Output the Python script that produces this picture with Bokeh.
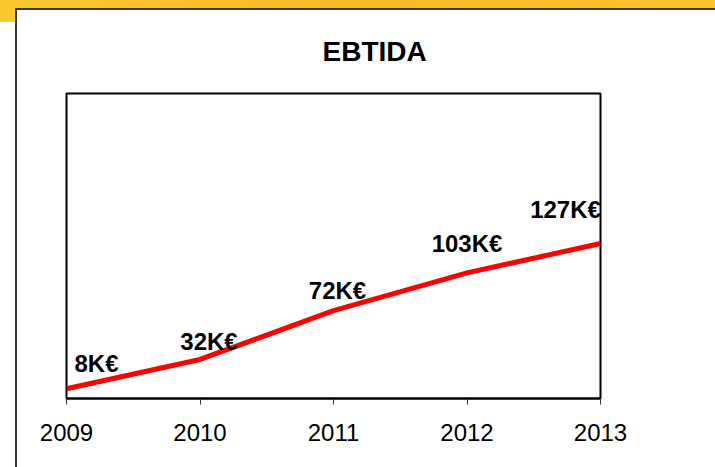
from bokeh.plotting import figure
from bokeh.models import ColumnDataSource, FixedTicker, Range1d, Title
from bokeh.core.properties import value
from bokeh.embed import file_html
from bokeh.resources import INLINE

years = [2009, 2010, 2011, 2012, 2013]
ebitda = [8, 32, 72, 103, 127]
labels = ["8K€", "32K€", "72K€", "103K€", "127K€"]
title_text = "EBTIDA"

# label placement offsets (px), style only
label_dx = [30, 9, 4, 0, -35]
label_dy = [-25, -18, -20, -29, -34]

src = ColumnDataSource(dict(x=years, y=ebitda, t=labels, dx=label_dx, dy=label_dy))

W, H = 715, 467
p = figure(width=W, height=H, output_backend="svg", toolbar_location=None,
           x_range=Range1d(2009, 2013), y_range=Range1d(0, 250),
           min_border_left=66, min_border_right=115, min_border_top=93,
           min_border_bottom=69)
p.background_fill_color = "white"
p.border_fill_color = None
p.outline_line_color = "black"
p.outline_line_width = 2
p.grid.visible = False
p.yaxis.visible = False

ax = p.xaxis[0]
ax.ticker = FixedTicker(ticks=years)
ax.axis_line_color = "black"
ax.axis_line_width = 2
ax.major_tick_in = 0
ax.major_tick_out = 6
ax.major_tick_line_color = "#333333"
ax.major_tick_line_width = 1
ax.minor_tick_line_color = None
ax.major_label_text_font = "Liberation Sans"
ax.major_label_text_font_size = "24px"
ax.major_label_text_color = "black"
ax.major_label_standoff = 19

t = Title(text=title_text, align="left", offset=256, standoff=53,
          text_font="Liberation Sans", text_font_size="28px",
          text_font_style="bold", text_color="black")
p.add_layout(t, "above")

p.line("x", "y", source=src, line_color="#ff0000", line_width=5)
p.text("x", "y", text="t", source=src, x_offset="dx", y_offset="dy",
       text_font=value("Liberation Sans"), text_font_size="24px",
       text_font_style="bold", text_color="black",
       text_align="center", text_baseline="middle")

p.styles = {
    "background": (
        "linear-gradient(#3a3a3a,#3a3a3a) 16px 8px / 100% 2px no-repeat, "
        "linear-gradient(#3a3a3a,#3a3a3a) 15px 8px / 2px 100% no-repeat, "
        "linear-gradient(to right, #fac92e, #f7bb22 50%, #f9c52a) 0 0 / 100% 8px no-repeat, "
        "linear-gradient(#fac92e,#fac92e) 0 0 / 16px 22px no-repeat, "
        "white"
    )
}

open("out.html", "w").write(file_html(p, INLINE))
